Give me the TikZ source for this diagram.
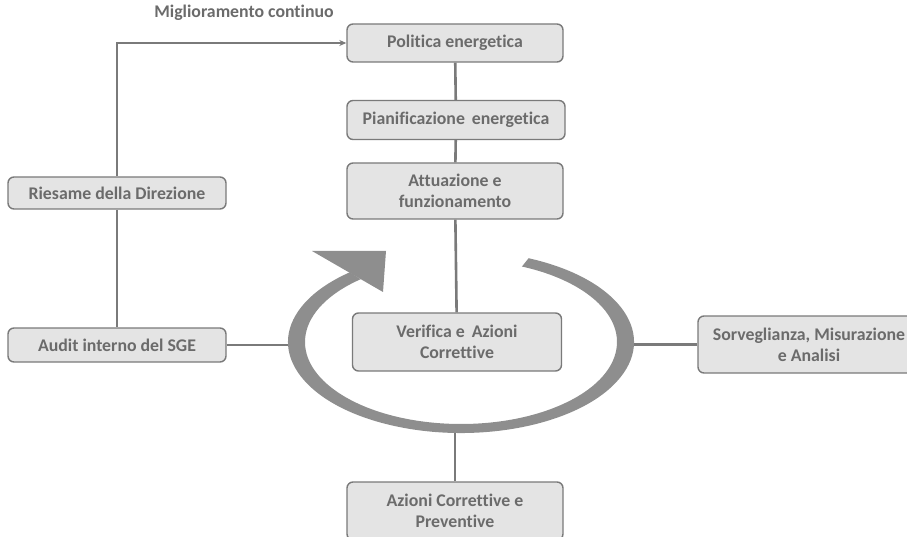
\documentclass[tikz,border=0pt]{standalone}
\usepackage{fontspec}
\setmainfont[Ligatures=NoCommon]{Carlito}
\usetikzlibrary{arrows.meta}
\definecolor{boxfill}{HTML}{E4E4E4}
\definecolor{boxline}{HTML}{7A7A7A}
\definecolor{txtgray}{HTML}{6B6B6B}
\definecolor{ringgray}{HTML}{8E8E8E}

\begin{document}
\begin{tikzpicture}[x=1pt,y=1pt,
  box/.style={draw=boxline, line width=1.4pt, fill=boxfill, rounded corners=6pt,
    text=txtgray, font=\bfseries\fontsize{17.8}{21}\selectfont, align=center, inner sep=0pt},
  link/.style={draw=boxline, line width=2.6pt}]
\useasboundingbox (0,0) rectangle (907,536);
% caselle
\node[box, minimum width=216, minimum height=38] (pol) at (455,493) {Politica energetica};
\node[box, minimum width=218, minimum height=39] (pian) at (456,416) {Pianificazione\, energetica};
\node[box, minimum width=216, minimum height=56] (att) at (455,345) {Attuazione e\\funzionamento};
\node[box, minimum width=218, minimum height=32] (ries) at (117,343) {Riesame della Direzione};
\node[box, minimum width=218, minimum height=34] (aud) at (117,191) {Audit interno del SGE};
\node[box, minimum width=209, minimum height=58] (ver) at (457,194) {Verifica e\, Azioni\\Correttive};
\node[box, minimum width=222, minimum height=57] (sorv) at (809,191.5) {Sorveglianza, Misurazione\\e Analisi};
\node[box, minimum width=216, minimum height=58] (azc) at (455,25) {Azioni Correttive e\\Preventive};
\node[text=txtgray, font=\bfseries\fontsize{17.8}{21}\selectfont] (mig) at (244,523) {Miglioramento continuo};
% punti sull'anello
\coordinate (ringW) at (295,191);
\coordinate (ringE) at (628,191.5);
\coordinate (ringS) at (455,110);
% collegamenti
\draw[link] (pol) -- (pian);
\draw[link] (pian) -- (att);
\draw[link] (att) -- (ver);
\draw[link] (ries) -- (aud);
\draw[link, -{Stealth[length=7pt,width=6pt]}] (ries.north) |- (pol.west);
\draw[link] (aud) -- (ringW);
\draw[link] (sorv) -- (ringE);
\draw[link] (azc) -- (ringS);
% anello con freccia
\fill[ringgray] ([shift={(67:173 and 91)}]461,194) arc[start angle=67, end angle=-230, x radius=173, y radius=91]
  -- ([shift={(-230:156 and 82)}]461,194) arc[start angle=-230, end angle=67, x radius=156, y radius=82] -- cycle;
\fill[ringgray] (312,285) -- (386,285) -- (383,244) -- cycle;
\end{tikzpicture}
\end{document}
